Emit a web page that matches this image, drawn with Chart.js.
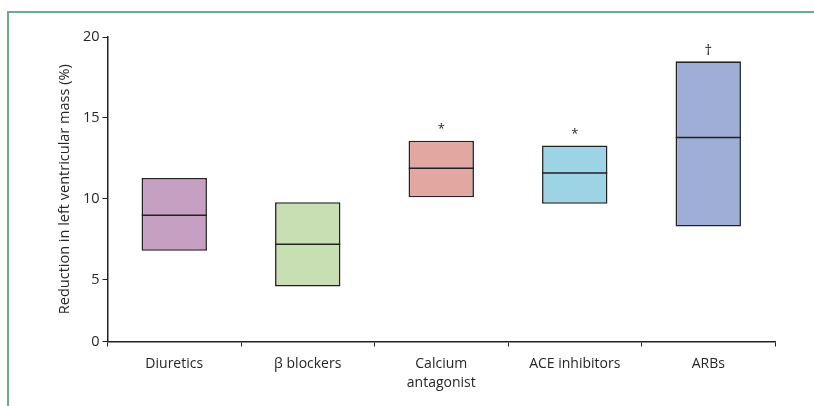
<!DOCTYPE html>
<html>
<head>
<meta charset="utf-8">
<script src="https://cdn.jsdelivr.net/npm/chart.js@4"></script>
<style>
  html, body { margin: 0; padding: 0; background: #fff; }
  #wrap { width: 814px; height: 406px; }
</style>
</head>
<body>
<div id="wrap"><canvas id="lvmChart"></canvas></div>
<script>
// DATA
const categories = ["Diuretics", "β blockers", ["Calcium", "antagonist"], "ACE inhibitors", "ARBs"];
const boxLow    = [6.8, 4.6, 10.1, 9.7, 8.3];
const boxHigh   = [11.3, 9.8, 13.6, 13.3, 18.5];
const medians   = [9.0, 7.2, 11.9, 11.6, 13.8];
const marks     = ["", "", "*", "*", "†"];
const yTicks    = [0, 5, 10, 15, 20];
// the original axis is broken: its "0" sits where ~1.2 would be on the linear scale
const yAxisStart = 1.2;

const boxColors = ["#c5a0c3", "#c8deb3", "#e1a7a0", "#9cd4e5", "#9eaed6"];
const inkColor = "#222";
const textColor = "#262626";

Chart.defaults.font.family = "'Open Sans', sans-serif";
Chart.defaults.font.size = 14;
Chart.defaults.color = textColor;

// green frame of the figure panel
const framePlugin = {
    id: "frame",
    beforeDraw(chart){
        const ctx = chart.ctx;
        ctx.save();
        ctx.strokeStyle = "#6aae8b";
        ctx.lineWidth = 2;
        ctx.beginPath();
        ctx.moveTo(8, chart.height);
        ctx.lineTo(8, 12);
        ctx.lineTo(chart.width, 12);
        ctx.stroke();
        ctx.restore();
    }
};

// significance marks above the boxes
const marksPlugin = {
    id: "marks",
    afterDatasetsDraw(chart){
        const ctx = chart.ctx;
        const meta = chart.getDatasetMeta(0);
        ctx.save();
        ctx.fillStyle = textColor;
        ctx.textAlign = "center";
        ctx.textBaseline = "middle";
        meta.data.forEach((bar, i) => {
            if(!marks[i]) return;
            ctx.font = (marks[i] === "†" ? "15px" : "13px") + " 'Open Sans', sans-serif";
            ctx.fillText(marks[i], bar.x, bar.y - 11);
        });
        ctx.restore();
    }
};

const ctx = document.getElementById("lvmChart").getContext("2d");
new Chart(ctx, {
    data: {
        labels: categories,
        datasets: [
            {
                type: "bar",
                data: boxLow.map((lo, i) => [lo, boxHigh[i]]),
                backgroundColor: boxColors,
                borderColor: inkColor,
                borderWidth: 1.6,
                borderSkipped: false,
                barPercentage: 0.49,
                categoryPercentage: 1,
                order: 2
            },
            {
                type: "line",
                data: medians,
                showLine: false,
                pointStyle: "line",
                pointRadius: 32.5,
                pointHoverRadius: 32.5,
                borderColor: inkColor,
                borderWidth: 1.5,
                order: 1
            }
        ]
    },
    options: {
        responsive: true,
        maintainAspectRatio: false,
        animation: false,
        events: [],
        layout: { padding: { left: 52, right: 39, top: 37, bottom: 0 } },
        plugins: { legend: { display: false }, tooltip: { enabled: false } },
        scales: {
            x: {
                type: "category",
                offset: true,
                grid: { offset: true, drawOnChartArea: false, drawTicks: true, tickLength: 5, color: inkColor },
                border: { color: inkColor, width: 1.5 },
                ticks: { padding: 8, color: textColor, maxRotation: 0, font: { size: 14, lineHeight: 1.35 } },
                afterFit(scale){ scale.height = 64.5; }
            },
            y: {
                min: yAxisStart,
                max: 20,
                afterBuildTicks(scale){
                    scale.ticks = yTicks.map(v => ({ value: v === 0 ? yAxisStart : v }));
                },
                grid: { drawOnChartArea: false, drawTicks: true, tickLength: 5, color: inkColor },
                border: { color: inkColor, width: 1.5 },
                ticks: {
                    padding: 3,
                    color: textColor,
                    font: { size: 14.5 },
                    callback: v => v === yAxisStart ? "0" : String(v)
                },
                title: {
                    display: true,
                    text: "Reduction in left ventricular mass (%)",
                    color: textColor,
                    font: { size: 14.5 }
                },
                afterFit(scale){ scale.width = 55.5; }
            }
        }
    },
    plugins: [framePlugin, marksPlugin]
});
</script>
</body>
</html>
